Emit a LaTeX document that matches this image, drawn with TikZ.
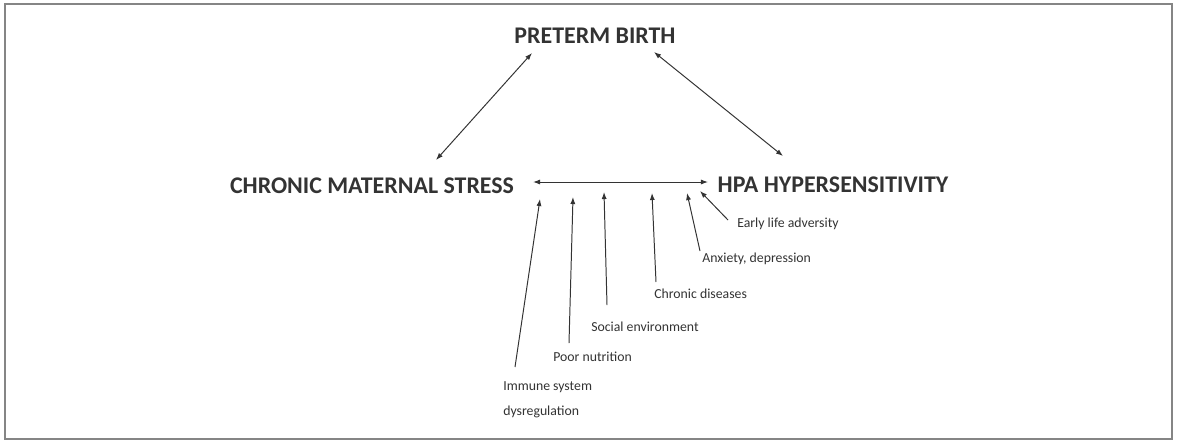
\documentclass[tikz,border=0pt]{standalone}
\usepackage{fontspec}
\setmainfont{Carlito}
\usepackage{tikz}
\usetikzlibrary{positioning}
\usetikzlibrary{arrows.meta}
\definecolor{ink}{HTML}{333333}
\definecolor{framegray}{HTML}{858585}

\begin{document}
\begin{tikzpicture}[x=0.025cm,y=-0.025cm,
  title/.style={text=ink, inner sep=0pt, font=\bfseries\fontsize{17}{20}\selectfont},
  factor/.style={text=ink, inner sep=0pt, anchor=west, font=\fontsize{9.8}{12}\selectfont},
  link/.style={draw=ink, line width=0.7pt, {Latex[length=5pt,width=3.6pt]}-{Latex[length=5pt,width=3.6pt]}},
  push/.style={draw=ink, line width=0.7pt, -{Latex[length=5pt,width=3.6pt]}}]
  \useasboundingbox (0,0) rectangle (1178,443);

  % Draw frame
  \draw[framegray, line width=1pt] (5,4) rectangle (1172,439);

  % Main nodes
  \node[title] (pb) at (595,36) {PRETERM BIRTH};
  \node[title] (cms) at (372,186) {CHRONIC MATERNAL STRESS};
  \node[title] (hpa) at (833,185) {HPA HYPERSENSITIVITY};

  % Ends of the links between the main nodes
  \coordinate (pbL) at (532,53);
  \coordinate (cmsT) at (436,160);
  \coordinate (pbR) at (654,52);
  \coordinate (hpaT) at (783,156);
  \coordinate (cmsR) at (533,182);
  \coordinate (hpaL) at (708,182);

  % Draw links
  \draw[link] (pbL) -- (cmsT);
  \draw[link] (pbR) -- (hpaT);
  \draw[link] (cmsR) -- (hpaL);

  % Factor labels
  \node[factor] (early) at (737,224) {Early life adversity};
  \node[factor] (anx) at (702,259) {Anxiety, depression};
  \node[factor] (chron) at (654,294) {Chronic diseases};
  \node[factor] (social) at (591,327) {Social environment};
  \node[factor] (poor) at (553,357) {Poor nutrition};
  \node[factor] (immune) at (503,387) {Immune system};
  \node[factor] (dysreg) at (503,412) {dysregulation};

  % Arrow tails and tips
  \coordinate (earlyT) at (728,220);  \coordinate (earlyH) at (700,191);
  \coordinate (anxT) at (700,251);    \coordinate (anxH) at (687,193);
  \coordinate (chronT) at (656,282);  \coordinate (chronH) at (652,193);
  \coordinate (socialT) at (607,305); \coordinate (socialH) at (604,192);
  \coordinate (poorT) at (569,343);   \coordinate (poorH) at (573,197);
  \coordinate (immuneT) at (515,367); \coordinate (immuneH) at (540,199);

  % Draw factor arrows
  \draw[push] (earlyT) -- (earlyH);
  \draw[push] (anxT) -- (anxH);
  \draw[push] (chronT) -- (chronH);
  \draw[push] (socialT) -- (socialH);
  \draw[push] (poorT) -- (poorH);
  \draw[push] (immuneT) -- (immuneH);
\end{tikzpicture}
\end{document}
